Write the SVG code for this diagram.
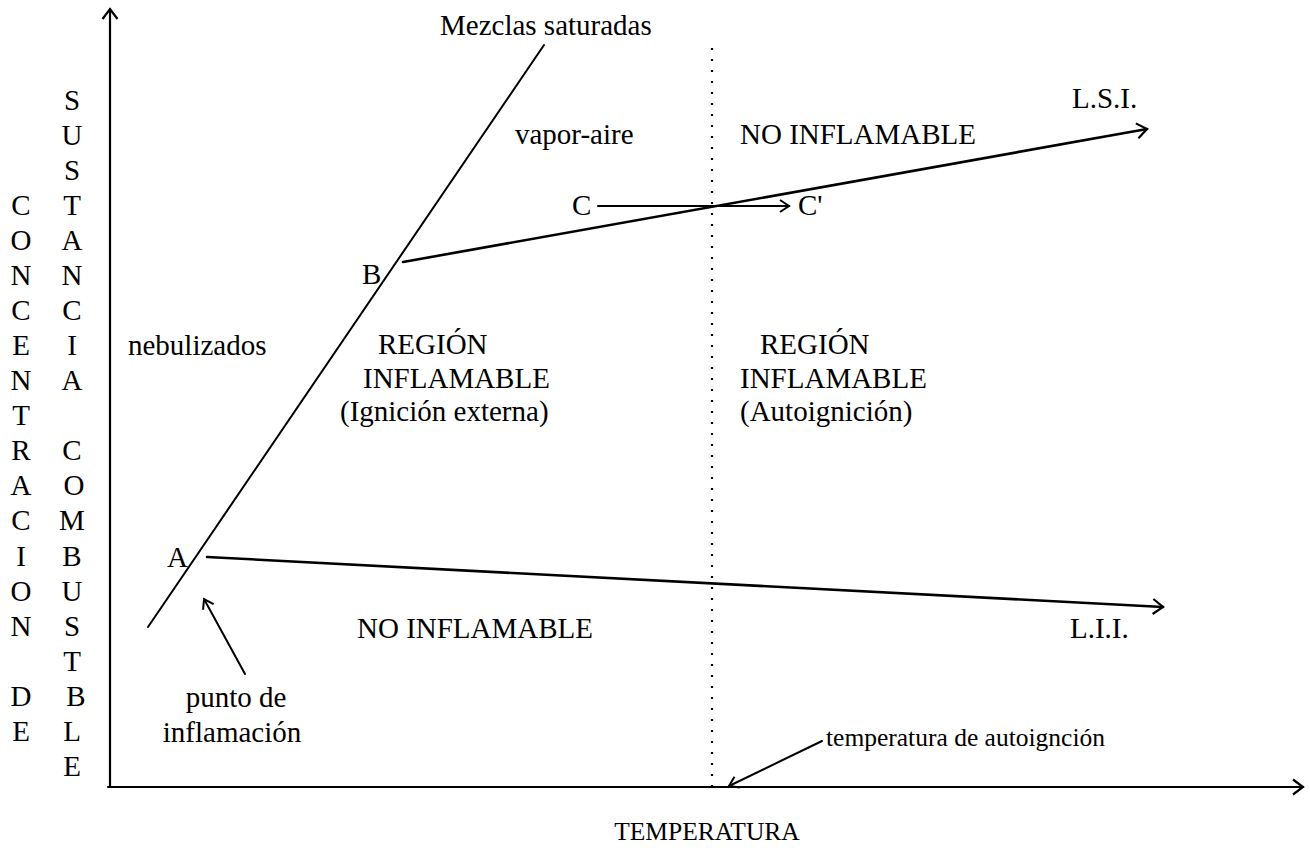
<svg xmlns="http://www.w3.org/2000/svg" width="1310" height="854" viewBox="0 0 1310 854">
<defs>
<style>
text{font-family:"Liberation Serif","Times New Roman",serif;font-size:29px;fill:#000}
.v{text-anchor:middle}
.sm{font-size:25.5px}
.ln{stroke:#000;fill:none;stroke-linecap:round}
.ax{stroke-width:2.2}
.thin{stroke-width:2}
.thick{stroke-width:2.6}
.dot{stroke:#000;fill:none;stroke-width:2.2;stroke-dasharray:2 9}
</style>
<marker id="ah" viewBox="-12 -9 14 18" markerWidth="14" markerHeight="18" refX="0" refY="0" orient="auto" markerUnits="userSpaceOnUse">
<path d="M-10,-7.5 L0,0 L-10,7.5" fill="none" stroke="#000" stroke-width="2.2" stroke-linejoin="miter"/>
</marker>
<marker id="ahs" viewBox="-12 -9 14 18" markerWidth="14" markerHeight="18" refX="0" refY="0" orient="auto" markerUnits="userSpaceOnUse">
<path d="M-9,-6 L0,0 L-9,6" fill="none" stroke="#000" stroke-width="2" stroke-linejoin="miter"/>
</marker>
</defs>
<rect x="0" y="0" width="1310" height="854" fill="#fff"/>

<g id="connectors">
<path class="ln ax" d="M110,787 L110,9" marker-end="url(#ah)"/>
<path class="ln ax" d="M108,787 L1303,787" marker-end="url(#ah)"/>
<path class="ln thin" d="M148,627 L544,45"/>
<path class="ln thick" d="M403,262 L1147,129" marker-end="url(#ah)"/>
<path class="ln thick" d="M207,557 L1163,607" marker-end="url(#ah)"/>
<path class="ln thin" d="M598,206 L789,206" marker-end="url(#ahs)"/>
<path class="dot" d="M712,48 L712,786"/>
<path class="ln thin" d="M245,674 L204,599" marker-end="url(#ahs)"/>
<path class="ln thin" d="M822,741 L729,786" marker-end="url(#ahs)"/>
</g>

<g id="label-concentracion" class="v">
<text x="21" y="215">C</text>
<text x="21" y="250">O</text>
<text x="21" y="285">N</text>
<text x="21" y="320">C</text>
<text x="21" y="355">E</text>
<text x="21" y="390">N</text>
<text x="21" y="425">T</text>
<text x="21" y="460">R</text>
<text x="21" y="495">A</text>
<text x="21" y="530">C</text>
<text x="21" y="566">I</text>
<text x="21" y="601">O</text>
<text x="21" y="636">N</text>
<text x="21" y="706">D</text>
<text x="21" y="741">E</text>
</g>

<g id="label-sustancia" class="v">
<text x="72" y="110">S</text>
<text x="72" y="145">U</text>
<text x="72" y="180">S</text>
<text x="72" y="215">T</text>
<text x="72" y="250">A</text>
<text x="72" y="285">N</text>
<text x="72" y="320">C</text>
<text x="72" y="355">I</text>
<text x="72" y="390">A</text>
<text x="72" y="460">C</text>
<text x="74" y="495">O</text>
<text x="72" y="530">M</text>
<text x="72" y="566">B</text>
<text x="72" y="601">U</text>
<text x="72" y="636">S</text>
<text x="72" y="671">T</text>
<text x="76" y="706">B</text>
<text x="72" y="741">L</text>
<text x="72" y="776">E</text>
</g>

<g id="label-mezclas"><text x="440" y="35">Mezclas saturadas</text></g>
<g id="label-vapor"><text x="515" y="144">vapor-aire</text></g>
<g id="label-noinf-top"><text x="740" y="144">NO INFLAMABLE</text></g>
<g id="label-lsi"><text x="1072" y="108">L.S.I.</text></g>
<g id="point-c"><text x="572" y="215">C</text></g>
<g id="point-c2"><text x="798" y="215">C'</text></g>
<g id="point-b"><text x="362" y="284">B</text></g>
<g id="label-nebulizados"><text x="128" y="355">nebulizados</text></g>
<g id="region-externa">
<text x="378" y="354">REGIÓN</text>
<text x="363" y="388">INFLAMABLE</text>
<text x="340" y="421">(Ignición externa)</text>
</g>
<g id="region-auto">
<text x="760" y="354">REGIÓN</text>
<text x="740" y="388">INFLAMABLE</text>
<text x="740" y="421">(Autoignición)</text>
</g>
<g id="point-a"><text x="167" y="567">A</text></g>
<g id="label-noinf-bottom"><text x="357" y="638">NO INFLAMABLE</text></g>
<g id="label-lii"><text x="1070" y="638">L.I.I.</text></g>
<g id="label-punto">
<text x="236" y="707" class="v">punto de</text>
<text x="232" y="742" class="v">inflamación</text>
</g>
<g id="label-autoig"><text x="826" y="746" class="sm">temperatura de autoignción</text></g>
<g id="label-temperatura"><text x="707" y="840" class="v sm">TEMPERATURA</text></g>
</svg>
